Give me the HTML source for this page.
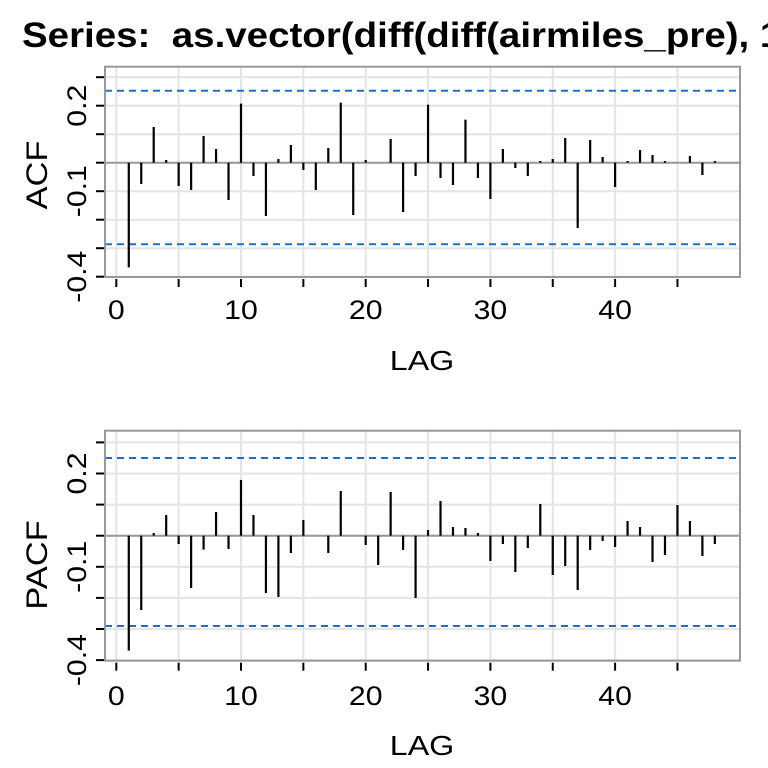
<!DOCTYPE html>
<html><head><meta charset="utf-8"><style>
html,body{margin:0;padding:0;background:#fff;width:768px;height:768px;overflow:hidden}
svg{display:block;font-family:"Liberation Sans",sans-serif}
</style></head><body>
<svg id="s" width="768" height="768" viewBox="0 0 768 768" xmlns="http://www.w3.org/2000/svg">
<text x="0" y="0" font-size="35" font-weight="bold" fill="#000" xml:space="preserve" style="white-space:pre" transform="translate(22,47) scale(1.1,1)">Series:  as.vector(diff(diff(airmiles_pre), 12)))</text>
</svg>
<script>
var s=document.getElementById('s');
var NS='http://www.w3.org/2000/svg';
function el(t,a,txt){var e=document.createElementNS(NS,t);for(var k in a)e.setAttribute(k,a[k]);if(txt!=null)e.textContent=txt;s.appendChild(e);return e;}
var acf=[622,372,201,300,378,390,228,267,420,131,348,468,297,255,330,390,264,128,465,300,308,237,456,348,134,354,375,179,354,417,267,324,348,303,297,234,504,240,291,381,303,270,285,303,308,288,345,303];
var pacf=[662,540,309,255,342,474,359,246,357,150,255,489,501,369,270,318,369,183,318,345,405,186,360,504,300,213,291,294,309,393,342,426,354,222,435,408,480,360,333,351,273,291,396,375,225,273,378,342];
function X(k){return 116.3+12.47*k;}
function panel(o){
  var L=105,R=740,T=o.top,B=o.bot,Z=o.zero,st=o.step;
  for(var i=-4;i<=3;i++){var y=Z-i*st;el('line',{x1:L,x2:R,y1:y,y2:y,stroke:'#e4e4e4','stroke-width':2});}
  for(var k=0;k<=45;k+=5){el('line',{x1:X(k),x2:X(k),y1:T,y2:B,stroke:'#e4e4e4','stroke-width':2});}
  el('line',{x1:L,x2:R,y1:o.d1,y2:o.d1,stroke:'#1c6fd0','stroke-width':2,'stroke-dasharray':'7,5'});
  el('line',{x1:L,x2:R,y1:o.d2,y2:o.d2,stroke:'#1c6fd0','stroke-width':2,'stroke-dasharray':'7,5'});
  el('line',{x1:L,x2:R,y1:Z,y2:Z,stroke:'#999','stroke-width':2});
  for(var j=0;j<48;j++){var y=o.base+o.v[j]/3;if(Math.abs(y-Z)<0.8)continue;el('line',{x1:X(j+1),x2:X(j+1),y1:Z,y2:y,stroke:'#000','stroke-width':2.2});}
  el('rect',{x:L,y:T,width:R-L,height:B-T,fill:'none',stroke:'#999','stroke-width':2});
  for(var i=-4;i<=3;i++){var y=Z-i*st;el('line',{x1:96,x2:104,y1:y,y2:y,stroke:'#000','stroke-width':2});}
  var lab={'2':'0.2','-1':'-0.1','-4':'-0.4'};
  for(var i in lab){var y=Z-i*st;el('text',{x:0,y:0,'font-size':27,'text-anchor':'middle',transform:'translate(86,'+y+') rotate(-90) scale(1.12,1)'},lab[i]);}
  for(var k=0;k<=45;k+=5){el('line',{x1:X(k),x2:X(k),y1:B+2,y2:B+10,stroke:'#000','stroke-width':2});}
  for(var k=0;k<=40;k+=10){el('text',{x:0,y:0,'font-size':27,'text-anchor':'middle',transform:'translate('+X(k)+','+o.xl+') scale(1.12,1)'},String(k));}
  el('text',{x:0,y:0,'font-size':28,'text-anchor':'middle',transform:'translate(422,'+o.lag+') scale(1.15,1)'},'LAG');
  el('text',{x:0,y:0,'font-size':30,'text-anchor':'middle',transform:'translate(47,'+o.ly+') rotate(-90) scale(1.15,1)'},o.name);
}
panel({top:66.7,bot:277,zero:162.7,step:28.5,d1:90.7,d2:244.3,base:60,v:acf,xl:319,lag:370,ly:175,name:'ACF'});
panel({top:430.7,bot:660.7,zero:535.7,step:31.1,d1:458,d2:626,base:430,v:pacf,xl:705,lag:755,ly:565,name:'PACF'});
</script>
</body></html>
